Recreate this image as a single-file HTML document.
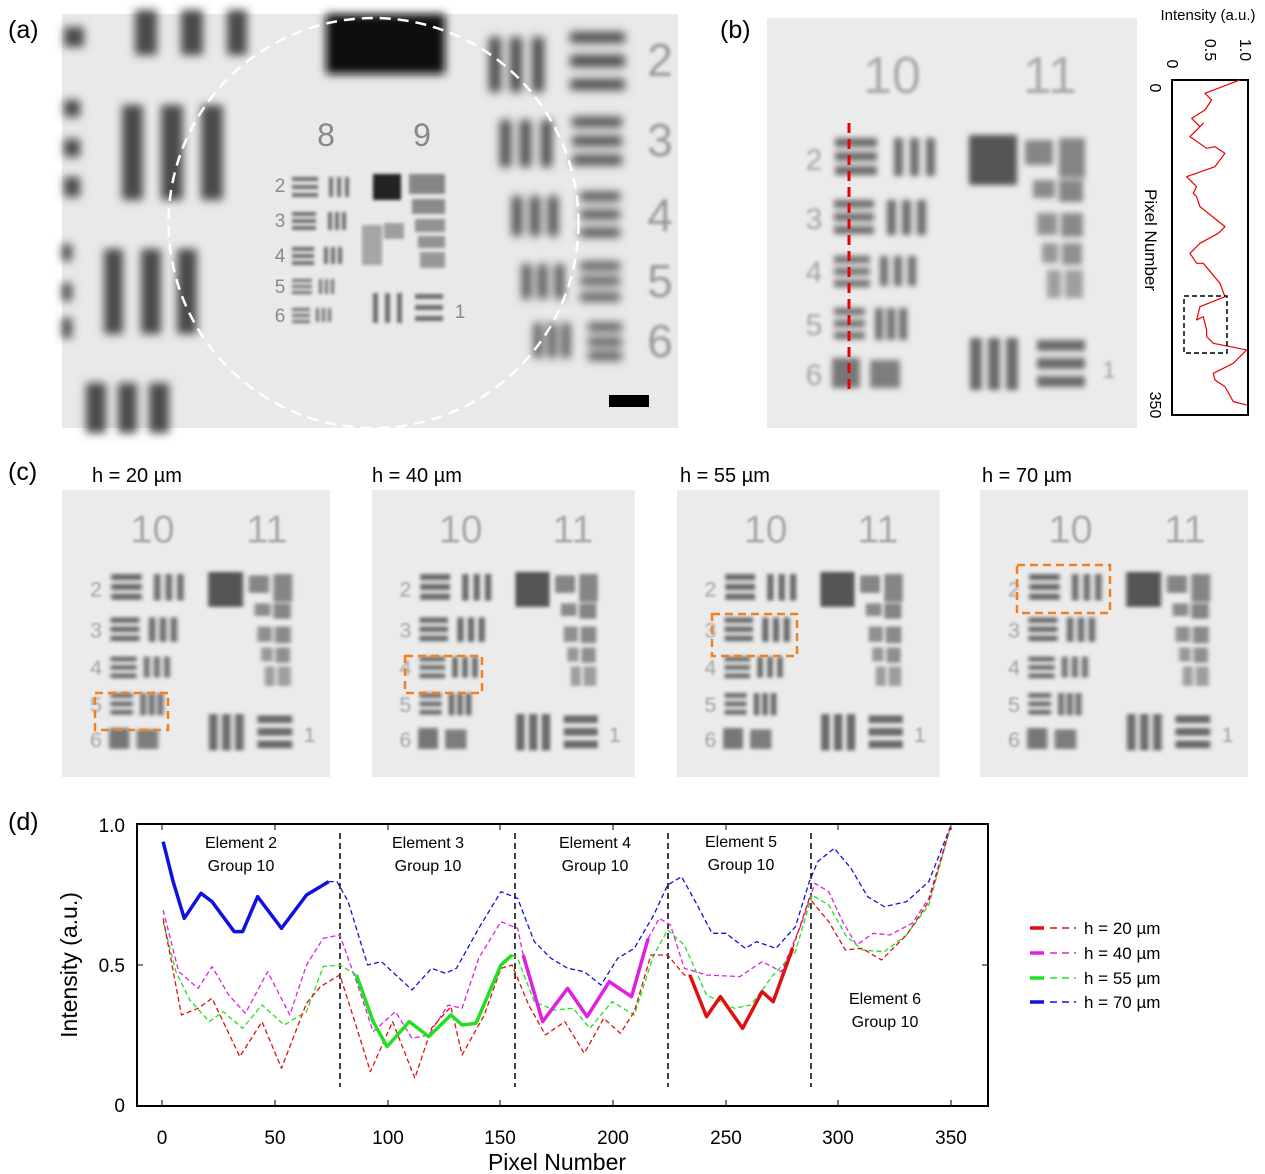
<!DOCTYPE html>
<html><head><meta charset="utf-8"><style>
html,body{margin:0;padding:0;background:#fff}
svg{display:block;font-family:"Liberation Sans",sans-serif}
</style></head><body>
<svg width="1265" height="1174" viewBox="0 0 1265 1174" xmlns="http://www.w3.org/2000/svg">
<defs>
<filter id="bl" x="-30%" y="-30%" width="160%" height="160%"><feGaussianBlur stdDeviation="4.5"/></filter>
<filter id="bl2" x="-30%" y="-30%" width="160%" height="160%"><feGaussianBlur stdDeviation="2.8"/></filter>
<filter id="bl3" x="-30%" y="-30%" width="160%" height="160%"><feGaussianBlur stdDeviation="1.6"/></filter>
<g id="tgt">
  <rect x="0" y="0" width="370" height="410" fill="#ebebeb"/>
  <g fill="#6a6a6a" filter="url(#bl2)">
    <rect x="68" y="120" width="42" height="9"/><rect x="68" y="134" width="42" height="9"/><rect x="68" y="148" width="42" height="9"/>
    <rect x="127" y="120" width="9" height="38"/><rect x="143" y="120" width="9" height="38"/><rect x="159" y="120" width="9" height="38"/>
    <rect x="67" y="182" width="40" height="8"/><rect x="67" y="195" width="40" height="8"/><rect x="67" y="208" width="40" height="8"/>
    <rect x="120" y="182" width="9" height="35"/><rect x="135" y="182" width="9" height="35"/><rect x="150" y="182" width="9" height="35"/>
    <rect x="67" y="238" width="36" height="7"/><rect x="67" y="250" width="36" height="7"/><rect x="67" y="262" width="36" height="7"/>
    <rect x="113" y="238" width="8" height="30"/><rect x="127" y="238" width="8" height="30"/><rect x="141" y="238" width="8" height="30"/>
    <rect x="67" y="290" width="31" height="7"/><rect x="67" y="302" width="31" height="7"/><rect x="67" y="314" width="31" height="7"/>
    <rect x="108" y="290" width="8" height="32"/><rect x="120" y="290" width="8" height="32"/><rect x="132" y="290" width="8" height="32"/>
    <rect x="65" y="340" width="28" height="30" opacity="0.9"/>
    <rect x="103" y="342" width="30" height="28" opacity="0.85"/>
    <rect x="202" y="117" width="48" height="50" fill="#555"/>
    <rect x="258" y="122" width="28" height="25" opacity="0.8"/><rect x="292" y="120" width="26" height="40" opacity="0.8"/>
    <rect x="266" y="162" width="22" height="18" opacity="0.75"/><rect x="292" y="162" width="24" height="22" opacity="0.8"/>
    <rect x="270" y="195" width="20" height="22" opacity="0.7"/><rect x="294" y="195" width="22" height="24" opacity="0.75"/>
    <rect x="275" y="225" width="16" height="20" opacity="0.65"/><rect x="295" y="225" width="20" height="22" opacity="0.7"/>
    <rect x="280" y="252" width="14" height="28" opacity="0.6"/><rect x="298" y="252" width="18" height="28" opacity="0.6"/>
    <rect x="203" y="320" width="12" height="52"/><rect x="221" y="320" width="12" height="52"/><rect x="239" y="320" width="12" height="52"/>
    <rect x="270" y="322" width="48" height="11"/><rect x="270" y="340" width="48" height="11"/><rect x="270" y="358" width="48" height="11"/>
  </g>
</g>
</defs>

<!-- ===== Panel (a) ===== -->
<text x="8" y="38" font-size="25">(a)</text>
<g>
  <rect x="62" y="14" width="616" height="414" fill="#e9e9e9"/>
  <g fill="#4a4a4a" filter="url(#bl)">
    <rect x="64" y="27" width="20" height="20"/>
    <rect x="135" y="10" width="22" height="45"/><rect x="181" y="10" width="22" height="45"/><rect x="227" y="10" width="20" height="45"/>
    <rect x="64" y="100" width="16" height="17"/><rect x="64" y="139" width="16" height="18"/><rect x="64" y="177" width="16" height="20"/>
    <rect x="122" y="105" width="21" height="95"/><rect x="161" y="105" width="22" height="95"/><rect x="201" y="105" width="22" height="95"/>
    <rect x="62" y="244" width="10" height="17"/><rect x="62" y="283" width="10" height="18"/><rect x="62" y="318" width="10" height="20"/>
    <rect x="104" y="249" width="19" height="85"/><rect x="141" y="249" width="20" height="85"/><rect x="177" y="249" width="20" height="85"/>
    <rect x="86" y="383" width="20" height="50"/><rect x="118" y="383" width="19" height="50"/><rect x="149" y="383" width="20" height="50"/>
    <rect x="489" y="37" width="12" height="55"/><rect x="510" y="37" width="12" height="55"/><rect x="532" y="37" width="12" height="55"/>
    <rect x="570" y="32" width="55" height="11"/><rect x="570" y="55" width="55" height="12"/><rect x="570" y="79" width="55" height="11"/>
    <rect x="500" y="120" width="11" height="47"/><rect x="520" y="120" width="11" height="47"/><rect x="541" y="120" width="11" height="47"/>
    <rect x="572" y="117" width="50" height="10"/><rect x="572" y="136" width="50" height="10"/><rect x="572" y="155" width="50" height="10"/>
    <rect x="512" y="196" width="10" height="40"/><rect x="530" y="196" width="10" height="40"/><rect x="548" y="196" width="10" height="40"/>
    <rect x="580" y="192" width="40" height="9"/><rect x="580" y="210" width="40" height="9"/><rect x="580" y="228" width="40" height="9"/>
    <rect x="522" y="264" width="9" height="35"/><rect x="538" y="264" width="9" height="35"/><rect x="555" y="264" width="9" height="35"/>
    <rect x="580" y="262" width="40" height="8"/><rect x="580" y="277" width="40" height="8"/><rect x="580" y="293" width="40" height="8"/>
    <rect x="534" y="323" width="8" height="35"/><rect x="548" y="323" width="8" height="35"/><rect x="562" y="323" width="8" height="35"/>
    <rect x="588" y="323" width="34" height="8"/><rect x="588" y="338" width="34" height="8"/><rect x="588" y="352" width="34" height="8"/>
  </g>
  <rect x="326" y="14" width="119" height="60" fill="#111" filter="url(#bl)"/>
  <g fill="#999" font-size="46" text-anchor="middle" filter="url(#bl3)">
    <text x="660" y="76">2</text><text x="660" y="156">3</text><text x="660" y="231">4</text><text x="660" y="297">5</text><text x="660" y="357">6</text>
  </g>
  <g fill="#888" font-size="32" text-anchor="middle"><text x="326" y="146">8</text><text x="422" y="146">9</text></g>
  <g fill="#8a8a8a" font-size="19" text-anchor="middle">
    <text x="280" y="192">2</text><text x="280" y="227">3</text><text x="280" y="262">4</text><text x="280" y="293">5</text><text x="280" y="322">6</text>
    <text x="460" y="318">1</text>
  </g>
  <g fill="#666" filter="url(#bl3)" opacity="0.95">
    <rect x="292" y="177" width="26" height="4"/><rect x="292" y="185" width="26" height="4"/><rect x="292" y="193" width="26" height="4"/>
    <rect x="329" y="177" width="4" height="20"/><rect x="337" y="177" width="4" height="20"/><rect x="345" y="177" width="4" height="20"/>
    <rect x="292" y="212" width="24" height="4"/><rect x="292" y="219" width="24" height="4"/><rect x="292" y="226" width="24" height="4"/>
    <rect x="328" y="212" width="4" height="18"/><rect x="335" y="212" width="4" height="18"/><rect x="342" y="212" width="4" height="18"/>
    <rect x="292" y="247" width="22" height="4"/><rect x="292" y="254" width="22" height="4"/><rect x="292" y="261" width="22" height="4"/>
    <rect x="324" y="247" width="4" height="17"/><rect x="331" y="247" width="4" height="17"/><rect x="338" y="247" width="4" height="17"/>
    <rect x="292" y="279" width="20" height="3"/><rect x="292" y="285" width="20" height="3"/><rect x="292" y="291" width="20" height="3"/>
    <rect x="319" y="279" width="3" height="15"/><rect x="325" y="279" width="3" height="15"/><rect x="331" y="279" width="3" height="15"/>
    <rect x="292" y="308" width="18" height="3"/><rect x="292" y="314" width="18" height="3"/><rect x="292" y="320" width="18" height="3"/>
    <rect x="316" y="308" width="3" height="14"/><rect x="322" y="308" width="3" height="14"/><rect x="328" y="308" width="3" height="14"/>
    <rect x="373" y="293" width="5" height="30"/><rect x="385" y="293" width="5" height="30"/><rect x="397" y="293" width="5" height="30"/>
    <rect x="415" y="294" width="28" height="5"/><rect x="415" y="305" width="28" height="5"/><rect x="415" y="316" width="28" height="5"/>
    <rect x="409" y="174" width="36" height="20" opacity="0.8"/><rect x="412" y="199" width="33" height="15" opacity="0.75"/>
    <rect x="415" y="219" width="30" height="13" opacity="0.7"/><rect x="418" y="236" width="27" height="12" opacity="0.7"/><rect x="420" y="252" width="25" height="16" opacity="0.65"/>
    <rect x="362" y="225" width="20" height="40" opacity="0.55"/><rect x="384" y="223" width="20" height="16" opacity="0.6"/>
  </g>
  <rect x="373" y="174" width="28" height="26" fill="#222" filter="url(#bl3)"/>
  <circle cx="373.5" cy="223" r="205" fill="none" stroke="#fff" stroke-width="2.5" stroke-dasharray="11,7"/>
  <rect x="609" y="395" width="40" height="12" fill="#000"/>
</g>

<!-- ===== Panel (b) ===== -->
<text x="720" y="38" font-size="25">(b)</text>
<g transform="translate(767,18)">
  <use href="#tgt"/>
  <g fill="#9a9a9a" font-size="52" text-anchor="middle" opacity="0.8" filter="url(#bl3)"><text x="125" y="75">10</text><text x="283" y="75">11</text></g>
  <g fill="#9a9a9a" font-size="30" text-anchor="middle" opacity="0.9" filter="url(#bl3)">
    <text x="47" y="152">2</text><text x="47" y="211">3</text><text x="47" y="264">4</text><text x="47" y="317">5</text><text x="47" y="367">6</text>
    <text x="342" y="360" font-size="24">1</text>
  </g>
</g>
<line x1="849" y1="123" x2="849" y2="392" stroke="#e00" stroke-width="3" stroke-dasharray="10,6"/>
<text x="1208" y="20" font-size="15" text-anchor="middle">Intensity (a.u.)</text>
<g font-size="16" text-anchor="middle">
  <text transform="translate(1172,64) rotate(90)" x="0" y="5">0</text>
  <text transform="translate(1210,50) rotate(90)" x="0" y="5">0.5</text>
  <text transform="translate(1245,50) rotate(90)" x="0" y="5">1.0</text>
  <text transform="translate(1155,88) rotate(90)" x="0" y="5">0</text>
  <text transform="translate(1155,405) rotate(90)" x="0" y="5">350</text>
  <text transform="translate(1151,240) rotate(90)" x="0" y="6" font-size="17">Pixel Number</text>
</g>
<rect x="1172" y="80" width="76" height="335" fill="none" stroke="#000" stroke-width="2"/>
<polyline transform="translate(760,0) scale(0.3333)" vector-effect="non-scaling-stroke" fill="none" stroke="#e00" stroke-width="1.2" stroke-linejoin="round"
 points="1440,240 1335,280 1355,300 1335,330 1295,355 1320,380 1330,370 1290,410 1340,445 1365,440 1395,460 1365,500 1280,530 1310,560 1300,580 1310,590 1320,620 1395,680 1375,700 1320,730 1290,760 1310,790 1330,790 1380,850 1395,890 1320,920 1310,960 1330,950 1340,990 1340,1010 1360,1030 1460,1050 1420,1090 1360,1120 1365,1140 1395,1160 1420,1205 1460,1215"/>
<rect x="1184" y="296" width="43" height="57" fill="none" stroke="#000" stroke-width="1.5" stroke-dasharray="5,3"/>

<!-- ===== Panel (c) ===== -->
<text x="8" y="480" font-size="25">(c)</text>
<g font-size="20">
  <text x="92" y="482">h = 20 µm</text><text x="372" y="482">h = 40 µm</text>
  <text x="680" y="482">h = 55 µm</text><text x="982" y="482">h = 70 µm</text>
</g>
<g transform="translate(62,490) scale(0.724,0.70)"><use href="#tgt"/>
  <g fill="#a8a8a8" font-size="55" text-anchor="middle" filter="url(#bl3)"><text x="125" y="75">10</text><text x="283" y="75">11</text></g>
  <g fill="#a0a0a0" font-size="30" text-anchor="middle" filter="url(#bl3)"><text x="47" y="152">2</text><text x="47" y="211">3</text><text x="47" y="264">4</text><text x="47" y="317">5</text><text x="47" y="367">6</text><text x="342" y="360">1</text></g></g>
<g transform="translate(372,490) scale(0.71,0.70)"><use href="#tgt"/>
  <g fill="#a8a8a8" font-size="55" text-anchor="middle" filter="url(#bl3)"><text x="125" y="75">10</text><text x="283" y="75">11</text></g>
  <g fill="#a0a0a0" font-size="30" text-anchor="middle" filter="url(#bl3)"><text x="47" y="152">2</text><text x="47" y="211">3</text><text x="47" y="264">4</text><text x="47" y="317">5</text><text x="47" y="367">6</text><text x="342" y="360">1</text></g></g>
<g transform="translate(677,490) scale(0.71,0.70)"><use href="#tgt"/>
  <g fill="#a8a8a8" font-size="55" text-anchor="middle" filter="url(#bl3)"><text x="125" y="75">10</text><text x="283" y="75">11</text></g>
  <g fill="#a0a0a0" font-size="30" text-anchor="middle" filter="url(#bl3)"><text x="47" y="152">2</text><text x="47" y="211">3</text><text x="47" y="264">4</text><text x="47" y="317">5</text><text x="47" y="367">6</text><text x="342" y="360">1</text></g></g>
<g transform="translate(980,490) scale(0.724,0.70)"><use href="#tgt"/>
  <g fill="#a8a8a8" font-size="55" text-anchor="middle" filter="url(#bl3)"><text x="125" y="75">10</text><text x="283" y="75">11</text></g>
  <g fill="#a0a0a0" font-size="30" text-anchor="middle" filter="url(#bl3)"><text x="47" y="152">2</text><text x="47" y="211">3</text><text x="47" y="264">4</text><text x="47" y="317">5</text><text x="47" y="367">6</text><text x="342" y="360">1</text></g></g>
<g fill="none" stroke="#f08020" stroke-width="2.5" stroke-dasharray="8,5">
  <rect x="95" y="693" width="73" height="37"/><rect x="405" y="656" width="77" height="37"/>
  <rect x="712" y="614" width="85" height="42"/><rect x="1017" y="565" width="93" height="48"/>
</g>

<!-- ===== Panel (d) ===== -->
<text x="8" y="830" font-size="25">(d)</text>
<rect x="137" y="824" width="851" height="282" fill="none" stroke="#000" stroke-width="2"/>
<g stroke="#000" stroke-width="1">
  <line x1="162" y1="1106" x2="162" y2="1100"/><line x1="275" y1="1106" x2="275" y2="1100"/><line x1="388" y1="1106" x2="388" y2="1100"/><line x1="500" y1="1106" x2="500" y2="1100"/><line x1="613" y1="1106" x2="613" y2="1100"/><line x1="726" y1="1106" x2="726" y2="1100"/><line x1="838" y1="1106" x2="838" y2="1100"/><line x1="951" y1="1106" x2="951" y2="1100"/>
  <line x1="162" y1="824" x2="162" y2="830"/><line x1="275" y1="824" x2="275" y2="830"/><line x1="388" y1="824" x2="388" y2="830"/><line x1="500" y1="824" x2="500" y2="830"/><line x1="613" y1="824" x2="613" y2="830"/><line x1="726" y1="824" x2="726" y2="830"/><line x1="838" y1="824" x2="838" y2="830"/><line x1="951" y1="824" x2="951" y2="830"/>
  <line x1="137" y1="965" x2="143" y2="965"/><line x1="988" y1="965" x2="982" y2="965"/>
</g>
<g font-size="19" text-anchor="middle">
  <text x="162" y="1144">0</text><text x="275" y="1144">50</text><text x="388" y="1144">100</text><text x="500" y="1144">150</text><text x="613" y="1144">200</text><text x="726" y="1144">250</text><text x="838" y="1144">300</text><text x="951" y="1144">350</text>
</g>
<g font-size="19" text-anchor="end">
  <text x="125" y="1112">0</text><text x="125" y="972">0.5</text><text x="125" y="832">1.0</text>
</g>
<text x="557" y="1170" font-size="23" text-anchor="middle">Pixel Number</text>
<text transform="translate(77,965) rotate(-90)" font-size="23" text-anchor="middle">Intensity (a.u.)</text>
<g stroke="#000" stroke-width="1.5" stroke-dasharray="6,4">
  <line x1="340" y1="833" x2="340" y2="1087"/><line x1="515" y1="833" x2="515" y2="1087"/>
  <line x1="668" y1="833" x2="668" y2="1087"/><line x1="811" y1="833" x2="811" y2="1087"/>
</g>
<g font-size="16" text-anchor="middle">
  <text x="241" y="848">Element 2</text><text x="241" y="871">Group 10</text>
  <text x="428" y="848">Element 3</text><text x="428" y="871">Group 10</text>
  <text x="595" y="848">Element 4</text><text x="595" y="871">Group 10</text>
  <text x="741" y="847">Element 5</text><text x="741" y="870">Group 10</text>
  <text x="885" y="1004">Element 6</text><text x="885" y="1027">Group 10</text>
</g>
<g transform="translate(128.7,815) scale(0.5556,0.3333)" fill="none" stroke-linejoin="round">
  <polyline vector-effect="non-scaling-stroke" stroke="#1010e0" stroke-width="1.3" stroke-dasharray="5,3" points="360,200 375,200 395,260 430,450 455,440 510,525 545,460 570,475 590,460 630,340 670,230 700,250 730,380 760,430 790,460 820,470 850,510 880,430 910,400 945,300 970,210 995,185 1020,260 1050,355 1075,355 1110,400 1130,380 1165,400 1200,335 1225,200 1240,140 1270,100 1300,160 1330,245 1360,275 1400,260 1440,200 1480,30"/>
  <polyline vector-effect="non-scaling-stroke" stroke="#e020e0" stroke-width="1.3" stroke-dasharray="5,3" points="62,285 90,470 125,520 150,455 180,540 210,595 250,470 290,600 320,450 350,370 380,360 410,500 440,650 480,590 510,670 540,660 575,570 600,580 630,430 670,320 700,340 710,420"/>
  <polyline vector-effect="non-scaling-stroke" stroke="#e020e0" stroke-width="1.3" stroke-dasharray="5,3" points="935,370 955,310 975,330 1000,460 1040,480 1100,485 1140,440 1175,470 1210,330 1235,205 1260,230 1285,320 1310,390 1340,355 1370,360 1410,325 1440,250 1480,30"/>
  <polyline vector-effect="non-scaling-stroke" stroke="#20e020" stroke-width="1.3" stroke-dasharray="5,3" points="62,320 85,470 110,555 145,620 170,590 205,640 240,570 280,630 320,590 350,455 380,450 410,480"/>
  <polyline vector-effect="non-scaling-stroke" stroke="#20e020" stroke-width="1.3" stroke-dasharray="5,3" points="690,420 700,430 730,560 765,585 800,580 830,640 870,560 910,600 945,420 970,345 1000,390 1040,540 1090,580 1120,570 1160,480 1200,410 1230,240 1260,270 1290,360 1320,405 1360,410 1400,360 1440,270 1480,30"/>
  <polyline vector-effect="non-scaling-stroke" stroke="#e01010" stroke-width="1.3" stroke-dasharray="5,3" points="62,310 95,600 125,580 150,550 200,725 240,620 275,760 320,565 345,515 380,480 405,610 435,770 475,620 515,790 545,640 580,575 600,720 640,600 670,460 690,450 720,570 750,660 785,620 820,715 855,610 885,655 910,590 940,420 970,420 1000,480 1010,480"/>
  <polyline vector-effect="non-scaling-stroke" stroke="#e01010" stroke-width="1.3" stroke-dasharray="5,3" points="1195,400 1225,250 1260,320 1290,405 1320,400 1355,435 1400,360 1440,260 1480,30"/>
  <polyline vector-effect="non-scaling-stroke" stroke="#1010e0" stroke-width="3.5" points="62,80 80,200 100,310 130,235 150,260 190,350 205,350 232,245 275,340 320,240 360,200"/>
  <polyline vector-effect="non-scaling-stroke" stroke="#20e020" stroke-width="3.5" points="410,480 440,620 465,695 505,620 540,665 580,600 600,630 625,625 670,450 690,420"/>
  <polyline vector-effect="non-scaling-stroke" stroke="#e020e0" stroke-width="3.5" points="710,420 745,620 790,520 825,605 865,500 905,545 935,370"/>
  <polyline vector-effect="non-scaling-stroke" stroke="#e01010" stroke-width="3.5" points="1010,480 1040,605 1065,545 1105,640 1140,530 1160,560 1195,400"/>
</g>
<g stroke-width="1.5">
  <line x1="1030" y1="928" x2="1044" y2="928" stroke="#e01010" stroke-width="3.5"/><line x1="1050" y1="928" x2="1076" y2="928" stroke="#e01010" stroke-dasharray="7,5"/>
  <line x1="1030" y1="953" x2="1044" y2="953" stroke="#e020e0" stroke-width="3.5"/><line x1="1050" y1="953" x2="1076" y2="953" stroke="#e020e0" stroke-dasharray="7,5"/>
  <line x1="1030" y1="978" x2="1044" y2="978" stroke="#20e020" stroke-width="3.5"/><line x1="1050" y1="978" x2="1076" y2="978" stroke="#20e020" stroke-dasharray="7,5"/>
  <line x1="1030" y1="1002" x2="1044" y2="1002" stroke="#1010e0" stroke-width="3.5"/><line x1="1050" y1="1002" x2="1076" y2="1002" stroke="#1010e0" stroke-dasharray="7,5"/>
</g>
<g font-size="17">
  <text x="1084" y="934">h = 20 µm</text><text x="1084" y="959">h = 40 µm</text>
  <text x="1084" y="984">h = 55 µm</text><text x="1084" y="1008">h = 70 µm</text>
</g>
</svg>
</body></html>
